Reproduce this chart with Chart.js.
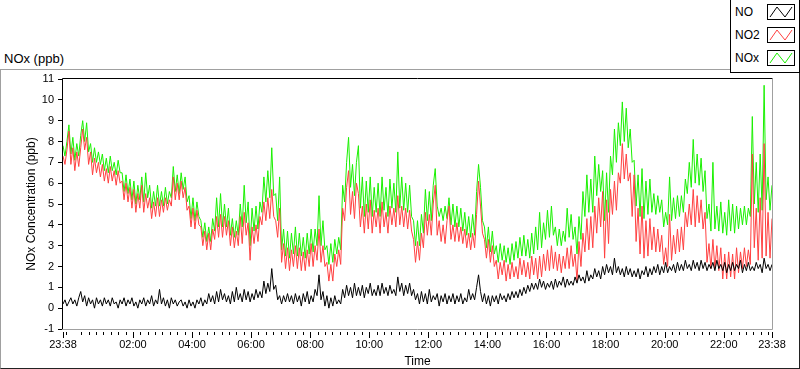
<!DOCTYPE html>
<html>
<head>
<meta charset="utf-8">
<script src="https://cdn.jsdelivr.net/npm/chart.js@4.4.0/dist/chart.umd.min.js"></script>
<style>
  body { margin: 0; width: 800px; height: 369px; background: #fff; position: relative; overflow: hidden;
         font-family: "Liberation Sans", Arial, sans-serif; color: #000; }
  #panel { position: absolute; left: 0; top: 69px; width: 798px; height: 298px;
           border-top: 1px solid #a0a0a0; border-left: 1px solid #a0a0a0;
           border-bottom: 1px solid #222; border-right: 1px solid #222; }
  #title { position: absolute; left: 4px; top: 51px; font-size: 13px; line-height: 16px; }
  #chart { position: absolute; left: 0; top: 0; }
  #legend { position: absolute; left: 730px; top: -1px; width: 68px; height: 72px;
            border: 1px solid #000; background: #fff; }
  .row { position: absolute; left: 4px; height: 16px; width: 64px; }
  .row span { position: absolute; left: 0; top: 0; font-size: 12px; line-height: 16px; }
  .row svg { position: absolute; left: 32px; top: 0; }
</style>
</head>
<body>
<div id="panel"></div>
<div id="title">NOx (ppb)</div>
<canvas id="chart" width="800" height="369"></canvas>
<div id="legend"></div>
<script>
// time axis: minutes after midnight of the first day, one sample every 4 minutes from 23:38
const startMinute = -22;
const stepMinutes = 4;

const tickMinutes = [-22, 120, 240, 360, 480, 600, 720, 840, 960, 1080, 1200, 1320, 1418];
const tickLabels = ['23:38', '02:00', '04:00', '06:00', '08:00', '10:00', '12:00',
                    '14:00', '16:00', '18:00', '20:00', '22:00', '23:38'];
const yTicks = [-1, 0, 1, 2, 3, 4, 5, 6, 7, 8, 9, 10, 11];

const seriesNames = ['NO', 'NO2', 'NOx'];
const seriesColors = ['#000000', '#ff4040', '#1af000'];

// one line of 10 samples = 40 minutes
const no = [
  0.2, 0.4, 0.1, 0.3, 0.5, 0.2, 0.4, 0.1, 0.5, 0.8,
  0.3, 0.6, 0.1, 0.5, 0.2, 0.4, 0.0, 0.5, 0.2, 0.4,
  0.1, 0.5, 0.2, 0.4, 0.1, 0.5, 0.2, 0.3, 0.0, 0.4,
  0.2, 0.5, 0.1, 0.4, 0.2, 0.5, 0.1, 0.3, 0.0, 0.4,
  0.2, 0.5, 0.1, 0.4, 0.2, 0.6, 0.1, 0.4, 0.2, 0.9,
  0.2, 0.5, 0.1, 0.4, 0.0, 0.5, 0.2, 0.4, 0.1, 0.3,
  0.4, 0.1, 0.3, 0.0, 0.4, 0.1, 0.3, 0.0, 0.4, 0.2,
  0.5, 0.1, 0.4, 0.2, 0.7, 0.3, 0.6, 0.2, 0.8, 0.3,
  0.9, 0.4, 0.7, 0.3, 0.6, 0.2, 0.8, 0.3, 1.0, 0.4,
  0.7, 0.3, 0.9, 0.4, 0.8, 0.3, 0.7, 0.4, 0.9, 0.5,
  0.8, 0.5, 1.3, 0.7, 1.2, 0.8, 1.9, 0.9, 1.1, 0.4,
  0.6, 0.2, 0.6, 0.3, 0.7, 0.3, 0.6, 0.2, 0.7, 0.3,
  0.6, 0.1, 0.7, 0.3, 0.8, 0.2, 0.6, 0.3, 0.9, 0.6,
  1.6, 0.4, 0.8, 0.1, 0.6, 0.0, 0.5, 0.1, 0.6, 0.2,
  0.4, 0.2, 0.9, 0.5, 1.1, 0.6, 1.0, 0.5, 1.2, 0.6,
  1.0, 0.6, 1.1, 0.5, 1.0, 0.7, 1.2, 0.6, 0.9, 0.6,
  1.1, 0.6, 1.2, 0.7, 1.0, 0.6, 1.1, 0.7, 0.9, 0.6,
  1.5, 0.8, 1.2, 0.6, 1.1, 0.7, 1.2, 0.6, 0.9, 0.4,
  0.7, 0.2, 0.8, 0.3, 0.7, 0.2, 0.9, 0.3, 0.6, 0.4,
  0.7, 0.1, 0.6, 0.3, 0.7, 0.2, 0.6, 0.3, 0.7, 0.2,
  0.6, 0.3, 0.7, 0.2, 0.5, 0.3, 0.9, 0.4, 0.7, 0.4,
  1.0, 1.6, 0.8, 0.3, 0.7, 0.2, 0.6, 0.1, 0.6, 0.3,
  0.6, 0.2, 0.7, 0.4, 0.6, 0.3, 0.7, 0.4, 0.8, 0.5,
  0.8, 0.5, 0.9, 0.6, 1.0, 0.7, 1.1, 0.8, 1.2, 0.9,
  1.2, 0.9, 1.4, 1.0, 1.3, 0.9, 1.2, 1.0, 1.3, 0.9,
  1.4, 1.0, 1.3, 1.1, 1.5, 1.0, 1.4, 1.1, 1.3, 1.1,
  1.5, 1.2, 1.6, 1.3, 1.5, 1.2, 1.8, 1.3, 1.6, 1.4,
  1.9, 1.5, 1.8, 1.4, 2.0, 1.6, 2.1, 1.7, 2.0, 1.6,
  2.4, 1.7, 2.0, 1.6, 1.9, 1.5, 2.0, 1.6, 1.9, 1.5,
  1.8, 1.5, 1.9, 1.4, 1.8, 1.6, 2.0, 1.5, 1.9, 1.6,
  2.0, 1.7, 2.1, 1.6, 2.0, 1.7, 2.2, 1.7, 2.0, 1.8,
  2.1, 1.7, 2.2, 1.8, 2.1, 1.8, 2.3, 1.9, 2.1, 1.8,
  2.3, 1.9, 2.2, 1.8, 2.3, 1.9, 2.2, 1.8, 2.1, 1.9,
  2.2, 1.8, 2.3, 1.9, 2.1, 1.8, 2.2, 1.7, 2.1, 1.8,
  2.2, 1.8, 2.1, 1.9, 2.3, 1.7, 2.1, 1.8, 2.2, 1.8,
  2.0, 1.8, 2.2, 1.9, 2.1, 1.7, 2.4, 1.9, 2.1, 1.8,
  2.1
];

const no2 = [
  7.3, 6.9, 7.6, 8.5, 6.9, 7.7, 6.6, 7.5, 6.8, 7.7,
  8.6, 7.6, 8.2, 6.9, 7.5, 6.4, 7.2, 6.5, 7.0, 6.3,
  6.9, 6.1, 6.7, 6.0, 6.8, 6.1, 6.6, 5.9, 6.6, 6.0,
  6.1, 5.2, 6.0, 5.1, 5.8, 4.8, 5.7, 4.6, 5.5, 4.8,
  5.9, 4.6, 5.5, 4.8, 5.3, 4.3, 5.1, 4.4, 5.3, 4.4,
  5.2, 4.6, 5.3, 4.7, 5.2, 4.9, 6.3, 5.2, 6.0, 5.2,
  6.1, 5.3, 5.8, 4.7, 4.9, 3.9, 4.8, 3.8, 4.7, 4.0,
  3.9, 3.0, 3.7, 2.8, 3.6, 2.8, 3.8, 3.3, 4.4, 3.4,
  4.5, 3.4, 4.4, 3.5, 4.2, 3.0, 3.9, 2.9, 3.7, 3.0,
  4.4, 3.1, 4.6, 3.5, 4.1, 2.3, 3.9, 3.1, 4.0, 3.2,
  4.4, 4.0, 5.1, 4.2, 5.3, 4.3, 5.7, 4.4, 4.2, 3.4,
  4.8, 2.2, 3.1, 1.9, 2.9, 1.8, 2.8, 2.0, 3.0, 1.9,
  2.9, 1.8, 2.7, 1.8, 2.8, 2.0, 3.1, 2.0, 3.0, 2.3,
  3.8, 2.2, 3.0, 2.0, 2.2, 1.3, 2.1, 1.3, 2.6, 2.0,
  2.8, 2.1, 4.8, 4.2, 5.8, 6.6, 4.5, 5.6, 4.3, 6.0,
  5.5, 3.9, 4.9, 3.6, 5.0, 3.8, 5.2, 3.6, 4.7, 3.9,
  4.8, 3.6, 5.1, 3.9, 4.6, 3.6, 4.9, 4.0, 4.8, 3.9,
  5.4, 4.0, 4.9, 3.9, 4.8, 3.8, 4.7, 3.7, 3.3, 2.2,
  3.2, 2.3, 3.6, 2.9, 4.6, 3.5, 4.5, 3.5, 5.0, 5.9,
  3.5, 4.2, 3.2, 4.0, 3.1, 4.2, 4.9, 3.3, 4.0, 3.2,
  4.1, 3.2, 3.9, 3.1, 3.8, 2.9, 3.6, 2.8, 3.6, 2.9,
  4.5, 6.1, 4.9, 3.6, 3.3, 2.4, 3.3, 2.2, 3.0, 2.0,
  2.3, 1.4, 2.2, 1.6, 2.3, 1.3, 2.1, 1.4, 2.2, 1.5,
  2.0, 1.4, 2.4, 1.6, 2.3, 1.5, 2.2, 1.4, 2.5, 1.6,
  2.4, 1.4, 2.5, 1.5, 2.6, 1.8, 2.8, 1.8, 3.0, 1.9,
  2.7, 1.8, 2.6, 1.7, 2.5, 1.9, 2.9, 1.9, 3.0, 2.0,
  2.6, 1.3, 3.2, 2.0, 3.6, 2.7, 4.3, 2.8, 4.4, 2.9,
  4.9, 3.6, 5.3, 3.9, 5.6, 2.4, 5.2, 3.1, 5.7, 4.5,
  6.1, 4.7, 6.5, 6.0, 7.9, 6.2, 7.4, 6.1, 6.5, 4.4,
  6.4, 3.2, 4.8, 2.6, 4.9, 2.4, 4.2, 2.5, 4.3, 2.8,
  3.9, 2.7, 3.8, 2.7, 3.5, 2.1, 2.9, 2.0, 4.5, 2.3,
  3.5, 2.6, 3.8, 2.7, 3.9, 2.8, 4.6, 3.9, 5.0, 4.0,
  5.7, 3.9, 5.4, 4.1, 5.2, 3.8, 4.6, 2.2, 3.1, 1.9,
  3.3, 1.9, 3.0, 1.8, 2.9, 1.4, 2.6, 1.4, 2.7, 1.5,
  2.6, 1.4, 2.9, 1.7, 2.7, 1.9, 2.9, 2.0, 2.8, 2.1,
  7.4, 2.9, 4.8, 2.3, 5.3, 2.4, 7.9, 2.5, 4.6, 2.4,
  4.3
];

const nox = [
  7.8, 7.3, 8.0, 8.8, 7.4, 8.2, 7.1, 7.9, 7.3, 8.3,
  9.0, 8.0, 8.9, 7.5, 7.9, 7.0, 7.7, 7.0, 7.5, 6.9,
  7.4, 6.6, 7.2, 6.5, 7.3, 6.6, 7.0, 6.4, 7.1, 6.5,
  6.5, 5.6, 6.4, 5.5, 6.2, 5.2, 6.1, 5.0, 5.9, 5.2,
  6.3, 5.1, 6.5, 5.3, 5.9, 4.8, 5.6, 4.9, 5.9, 4.9,
  5.6, 4.9, 5.8, 5.0, 5.6, 5.3, 6.8, 5.6, 6.4, 5.5,
  6.5, 5.7, 6.3, 5.1, 5.4, 4.3, 5.3, 4.2, 5.1, 4.4,
  4.2, 3.4, 4.1, 3.2, 3.9, 3.2, 4.3, 3.7, 5.3, 3.9,
  5.5, 3.9, 5.0, 3.9, 4.8, 3.5, 4.3, 3.4, 4.2, 3.5,
  5.0, 3.9, 5.9, 4.1, 5.1, 3.0, 4.8, 3.7, 4.9, 3.8,
  5.1, 4.6, 6.3, 5.1, 6.6, 5.3, 7.7, 5.4, 5.5, 4.2,
  6.3, 2.8, 3.8, 2.5, 3.7, 2.4, 3.6, 2.6, 3.9, 2.5,
  3.6, 2.5, 3.4, 2.4, 3.6, 2.6, 3.8, 2.7, 3.8, 3.0,
  5.4, 3.0, 4.2, 2.8, 3.0, 2.1, 3.1, 2.2, 3.3, 2.6,
  3.4, 2.8, 5.9, 5.1, 7.0, 8.2, 5.8, 6.9, 5.4, 7.0,
  7.8, 4.8, 6.3, 4.4, 6.1, 4.6, 6.3, 4.4, 5.8, 4.6,
  6.0, 4.4, 6.3, 4.7, 5.8, 4.4, 6.2, 4.8, 6.0, 4.6,
  7.5, 4.8, 6.3, 4.7, 6.0, 4.6, 5.9, 4.4, 4.2, 3.0,
  4.2, 3.0, 4.5, 3.6, 5.7, 4.2, 5.6, 4.2, 5.9, 6.7,
  4.9, 4.4, 4.8, 4.2, 4.9, 4.3, 5.3, 4.0, 5.0, 3.9,
  4.9, 3.9, 4.8, 3.7, 4.6, 3.5, 4.4, 3.4, 4.5, 3.5,
  5.6, 6.9, 5.8, 4.2, 3.9, 2.9, 3.9, 2.7, 3.7, 2.6,
  3.0, 2.2, 3.1, 2.3, 3.0, 2.2, 2.9, 2.1, 3.1, 2.3,
  3.2, 2.4, 3.4, 2.5, 3.5, 2.5, 3.3, 2.4, 3.6, 2.6,
  3.9, 2.8, 4.6, 2.9, 4.1, 3.3, 4.7, 3.4, 4.9, 3.5,
  3.9, 3.0, 3.8, 3.0, 3.7, 3.2, 4.8, 3.4, 4.5, 3.3,
  3.9, 2.6, 4.4, 3.3, 5.6, 4.4, 6.4, 4.6, 6.2, 4.6,
  7.3, 5.4, 6.9, 5.6, 6.6, 4.2, 6.5, 4.6, 7.3, 6.4,
  8.6, 7.0, 8.9, 7.8, 9.9, 8.0, 9.6, 7.7, 8.6, 7.0,
  7.1, 4.9, 6.4, 4.4, 6.7, 4.3, 6.1, 4.5, 6.2, 4.6,
  5.5, 4.5, 5.4, 4.6, 5.2, 3.9, 4.6, 4.0, 6.3, 4.2,
  5.3, 4.3, 5.4, 4.4, 5.4, 4.6, 6.2, 5.5, 7.0, 5.8,
  8.1, 6.0, 7.4, 5.9, 7.2, 5.6, 6.6, 4.3, 5.0, 3.7,
  7.0, 3.8, 4.9, 3.7, 5.1, 3.6, 4.6, 3.5, 5.2, 3.7,
  5.0, 3.6, 4.9, 3.8, 4.8, 4.0, 4.9, 4.0, 4.8, 4.4,
  9.2, 5.0, 7.0, 4.6, 7.4, 4.7, 10.7, 5.2, 6.3, 4.7,
  5.9
];

const font = 'Liberation Sans, Arial, sans-serif';

function points(values) {
  return values.map((v, i) => ({ x: startMinute + i * stepMinutes, y: v }));
}

// legend box with little zigzag icons
const legend = document.getElementById('legend');
seriesNames.forEach((name, i) => {
  const row = document.createElement('div');
  row.className = 'row';
  row.style.top = (4 + i * 23) + 'px';
  row.innerHTML = '<span>' + name + '</span>' +
    '<svg width="28" height="16"><rect x="0.5" y="0.5" width="27" height="15" fill="#fff" stroke="#000"/>' +
    '<polyline points="3,13 10,3 18,13 25,3" fill="none" stroke="' + seriesColors[i] + '" stroke-width="1"/></svg>';
  legend.appendChild(row);
});

// plot frame (sunken look) and time axis tick marks
const framePlugin = {
  id: 'frame',
  afterDraw(chart) {
    const { ctx, chartArea: a, scales: { x } } = chart;
    ctx.save();
    ctx.lineWidth = 1;
    ctx.strokeStyle = '#000';
    ctx.beginPath();
    ctx.moveTo(a.left - 0.5, a.bottom); ctx.lineTo(a.left - 0.5, a.top - 0.5); ctx.lineTo(a.right + 0.5, a.top - 0.5);
    ctx.stroke();
    ctx.strokeStyle = '#a0a0a0';
    ctx.beginPath();
    ctx.moveTo(a.right + 0.5, a.top); ctx.lineTo(a.right + 0.5, a.bottom + 0.5); ctx.lineTo(a.left - 1, a.bottom + 0.5);
    ctx.stroke();

    ctx.strokeStyle = '#000';
    ctx.beginPath();
    const y0 = a.bottom + 3;
    tickMinutes.forEach(m => {
      const px = Math.round(x.getPixelForValue(m)) + 0.5;
      ctx.moveTo(px, y0); ctx.lineTo(px, y0 + 6);
    });
    for (let m = -15; m < 1418; m += 15) {
      if (m % 120 === 0) continue;
      const px = Math.round(x.getPixelForValue(m)) + 0.5;
      ctx.moveTo(px, y0); ctx.lineTo(px, y0 + 3);
    }
    ctx.stroke();
    ctx.restore();
  }
};

new Chart(document.getElementById('chart'), {
  type: 'line',
  data: {
    datasets: [
      { label: seriesNames[0], data: points(no), borderColor: seriesColors[0] },
      { label: seriesNames[1], data: points(no2), borderColor: seriesColors[1] },
      { label: seriesNames[2], data: points(nox), borderColor: seriesColors[2] }
    ]
  },
  options: {
    responsive: false,
    animation: false,
    events: [],
    layout: { padding: { top: 79, right: 28, left: 0, bottom: 0 } },
    elements: {
      line: { borderWidth: 1, tension: 0 },
      point: { radius: 0 }
    },
    plugins: { legend: { display: false }, tooltip: { enabled: false } },
    scales: {
      x: {
        type: 'linear',
        min: -22, max: 1418,
        afterBuildTicks: s => { s.ticks = tickMinutes.map(v => ({ value: v })); },
        afterFit: s => { s.height = 40; },
        ticks: {
          autoSkip: false, maxRotation: 0, padding: 1, color: '#000',
          font: { family: font, size: 11 },
          callback: (v, i) => tickLabels[i]
        },
        grid: { drawOnChartArea: false, tickLength: 8, tickColor: 'rgba(0,0,0,0)' },
        border: { display: false },
        title: { display: true, text: 'Time', color: '#000', font: { family: font, size: 12 },
                 padding: { top: 0, bottom: 0 } }
      },
      y: {
        min: -1, max: 11,
        afterBuildTicks: s => { s.ticks = yTicks.map(v => ({ value: v })); },
        afterFit: s => { s.width = 63; },
        ticks: { padding: 4, color: '#000', font: { family: font, size: 11 } },
        grid: { drawOnChartArea: false, tickLength: 5, tickColor: '#000' },
        border: { display: false },
        title: { display: true, text: 'NOx Concentration (ppb)', color: '#000',
                 font: { family: font, size: 12 }, padding: { top: 24, bottom: 0 } }
      }
    }
  },
  plugins: [framePlugin]
});
</script>
</body>
</html>
